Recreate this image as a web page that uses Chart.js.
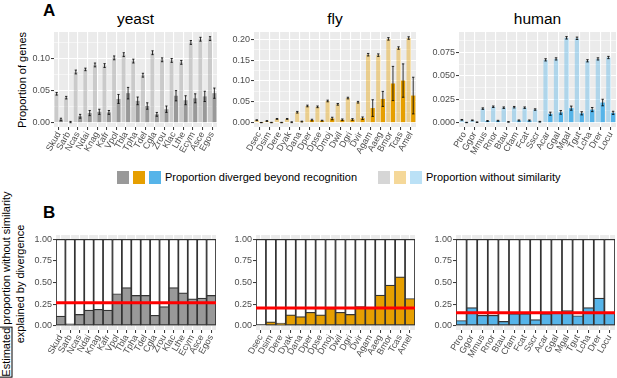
<!DOCTYPE html>
<html>
<head>
<meta charset="utf-8">
<script src="https://cdn.jsdelivr.net/npm/chart.js@4.4.1/dist/chart.umd.min.js"></script>
<style>
  html, body { margin:0; padding:0; background:#fff; }
  body { width:617px; height:378px; position:relative; overflow:hidden; font-family:"Liberation Sans", Arial, Helvetica, sans-serif; }
  canvas { position:absolute; }
  .txt { position:absolute; white-space:nowrap; color:#000; line-height:1; }
  .ctr { text-align:center; }
  .rot { transform: translate(-50%,-50%) rotate(-90deg); }
  .sq { position:absolute; width:12px; height:13px; }
</style>
</head>
<body>
<!-- Panel letters and titles -->
<div class="txt" style="left:43px;top:2px;font-size:17px;font-weight:bold;">A</div>
<div class="txt" style="left:43px;top:204px;font-size:17px;font-weight:bold;">B</div>
<div class="txt ctr" style="left:54px;width:163px;top:11px;font-size:15.5px;">yeast</div>
<div class="txt ctr" style="left:254px;width:162px;top:11px;font-size:15.5px;">fly</div>
<div class="txt ctr" style="left:459px;width:157px;top:11px;font-size:15.5px;">human</div>
<div class="txt rot" style="left:22px;top:80px;font-size:11px;">Proportion of genes</div>
<div class="txt rot ctr" style="left:13px;top:284px;font-size:11px;line-height:13.5px;"><span style="outline:1px solid #000;">Estimated</span> proportion without similarity<br>explained by divergence</div>

<!-- Legend -->
<div class="sq" style="left:117px;top:171px;background:#999999;"></div>
<div class="sq" style="left:133px;top:171px;background:#E69F00;"></div>
<div class="sq" style="left:149px;top:171px;background:#56B4E9;"></div>
<div class="txt" style="left:165px;top:172px;font-size:11px;">Proportion diverged beyond recognition</div>
<div class="sq" style="left:378px;top:171px;background:#d6d6d6;"></div>
<div class="sq" style="left:394px;top:171px;background:#f5d899;"></div>
<div class="sq" style="left:410px;top:171px;background:#bbe1f6;"></div>
<div class="txt" style="left:426px;top:172px;font-size:11px;">Proportion without similarity</div>

<canvas id="aYeast" width="203" height="135" style="left:14px;top:32px;"></canvas>
<canvas id="aFly" width="202" height="135" style="left:214px;top:32px;"></canvas>
<canvas id="aHuman" width="197" height="135" style="left:419px;top:32px;"></canvas>
<canvas id="bYeast" width="200" height="140" style="left:16px;top:235px;"></canvas>
<canvas id="bFly" width="199" height="140" style="left:216px;top:235px;"></canvas>
<canvas id="bHuman" width="199" height="140" style="left:416px;top:235px;"></canvas>

<script>
// ================= DATA =================
const yeastSpecies   = ['Skud','Sarb','Ncas','Ndai','Knag','Kafr','Vpol','Tbla','Tpha','Tdel','Cgla','Zrou','Klac','Lthe','Ecym','Asce','Egos'];
const yeastNoSim     = [0.045,0.039,0.079,0.083,0.090,0.089,0.101,0.106,0.096,0.074,0.109,0.098,0.097,0.094,0.125,0.130,0.131];
const yeastNoSimErr  = [0.002,0.002,0.003,0.002,0.003,0.003,0.003,0.003,0.003,0.003,0.003,0.003,0.003,0.003,0.003,0.003,0.003];
const yeastDiv       = [0.005,0.001,0.010,0.015,0.017,0.016,0.037,0.046,0.034,0.026,0.013,0.021,0.042,0.035,0.038,0.041,0.046];
const yeastDivErr    = [0.002,0.001,0.003,0.004,0.004,0.003,0.007,0.009,0.006,0.005,0.003,0.005,0.008,0.007,0.007,0.008,0.008];
const yeastExplained = [0.11,0.02,0.13,0.18,0.19,0.18,0.37,0.44,0.35,0.35,0.12,0.22,0.44,0.38,0.31,0.32,0.35];
const yeastMean      = 0.265;

const flySpecies     = ['Dsec','Dsim','Dere','Dyak','Dana','Dper','Dpse','Dmoj','Dwil','Dgri','Dvir','Agam','Aaeg','Bmor','Tcas','Amel'];
const flyNoSim       = [0.006,0.004,0.009,0.009,0.025,0.040,0.038,0.052,0.044,0.059,0.049,0.163,0.162,0.201,0.179,0.203];
const flyNoSimErr    = [0.001,0.001,0.001,0.001,0.002,0.002,0.002,0.002,0.002,0.002,0.002,0.003,0.003,0.003,0.003,0.003];
const flyDiv         = [0.0002,0.0003,0.0003,0.0011,0.0026,0.0062,0.0048,0.010,0.0069,0.0076,0.0107,0.035,0.057,0.094,0.101,0.065];
const flyDivErr      = [0.0003,0.0005,0.0005,0.001,0.001,0.002,0.001,0.003,0.002,0.002,0.003,0.020,0.018,0.041,0.040,0.044];
const flyExplained   = [0.0,0.045,0.03,0.125,0.105,0.155,0.125,0.20,0.155,0.13,0.22,0.21,0.355,0.47,0.565,0.315];
const flyMean        = 0.205;

const humanSpecies   = ['Ptro','Ggor','Mmus','Rnor','Btau','Cfam','Fcat','Sscr','Acar','Ggal','Mgal','Tgut','Lcha','Drer','Locu'];
const humanNoSim     = [0.0030,0.0025,0.0150,0.0170,0.0160,0.0165,0.0160,0.0140,0.0670,0.0680,0.0905,0.0900,0.0660,0.0680,0.0695];
const humanNoSimErr  = [0.0004,0.0004,0.0008,0.0008,0.0008,0.0008,0.0008,0.0008,0.0012,0.0012,0.0013,0.0013,0.0012,0.0012,0.0012];
const humanDiv       = [0.0002,0.0005,0.0018,0.0020,0.0008,0.0023,0.0023,0.0010,0.0095,0.0110,0.0155,0.0100,0.0140,0.0215,0.0105];
const humanDivErr    = [0.0002,0.0003,0.0005,0.0005,0.0003,0.0006,0.0006,0.0004,0.0017,0.0020,0.0022,0.0017,0.0022,0.0035,0.0017];
const humanExplained = [0.06,0.21,0.12,0.12,0.05,0.14,0.14,0.07,0.14,0.16,0.175,0.115,0.21,0.32,0.15];
const humanMean      = 0.15;

const yeastTicks = [0, 0.05, 0.10];
const yeastTickLabels = ['0.00','0.05','0.10'];
const yeastRange = [-0.0067, 0.1413];
const flyTicks = [0, 0.05, 0.10, 0.15, 0.20];
const flyTickLabels = ['0.00','0.05','0.10','0.15','0.20'];
const flyRange = [-0.0104, 0.2175];
const humanTicks = [0, 0.025, 0.05, 0.075];
const humanTickLabels = ['0.000','0.025','0.050','0.075'];
const humanRange = [-0.0046, 0.0967];
const bTicks = [0, 0.25, 0.5, 0.75, 1.0];
const bTickLabels = ['0.00','0.25','0.50','0.75','1.00'];
const bRange = [-0.05, 1.05];
const fullBar = 1.0;

// ================= STYLE =================
const FONT = '"Liberation Sans", Arial, Helvetica, sans-serif';
Chart.defaults.font.family = FONT;
const C = {
  yeast: {dark:'#999999', light:'rgba(153,153,153,0.4)'},
  fly:   {dark:'#E69F00', light:'rgba(230,159,0,0.4)'},
  human: {dark:'#56B4E9', light:'rgba(86,180,233,0.4)'}
};

const panelBg = {
  id:'panelBg',
  beforeDraw(chart){
    const {ctx, chartArea:a} = chart;
    ctx.save(); ctx.fillStyle = '#ebebeb';
    ctx.fillRect(a.left, a.top, a.right - a.left, a.bottom - a.top);
    ctx.restore();
  }
};
const errorBars = {
  id:'errorBars',
  afterDatasetsDraw(chart){
    const ctx = chart.ctx, ys = chart.scales.y;
    chart.data.datasets.forEach((ds, di) => {
      if (!ds.errors) return;
      const meta = chart.getDatasetMeta(di);
      meta.data.forEach((el, i) => {
        const v = ds.data[i], e = ds.errors[i];
        const t = ys.getPixelForValue(v + e), b = ys.getPixelForValue(v - e);
        const cw = el.width * 0.28;
        ctx.save();
        ctx.strokeStyle = '#000'; ctx.lineWidth = 0.8;
        ctx.beginPath();
        ctx.moveTo(el.x, t); ctx.lineTo(el.x, b);
        ctx.moveTo(el.x - cw, t); ctx.lineTo(el.x + cw, t);
        ctx.moveTo(el.x - cw, b); ctx.lineTo(el.x + cw, b);
        ctx.stroke(); ctx.restore();
      });
    });
  }
};
const refLine = {
  id:'refLine',
  afterDatasetsDraw(chart, args, opts){
    if (opts.value === undefined) return;
    const {ctx, chartArea:a} = chart;
    const y = chart.scales.y.getPixelForValue(opts.value);
    ctx.save(); ctx.strokeStyle = '#ff0000'; ctx.lineWidth = 3;
    ctx.beginPath(); ctx.moveTo(a.left, y); ctx.lineTo(a.right, y); ctx.stroke();
    ctx.restore();
  }
};

function minorOf(ticks, max){
  const out = [];
  for (let i = 0; i < ticks.length - 1; i++) out.push((ticks[i] + ticks[i+1]) / 2);
  const half = (ticks[1] - ticks[0]) / 2;
  if (ticks[ticks.length-1] + half <= max) out.push(ticks[ticks.length-1] + half);
  return out;
}

function baseOptions(ticks, labels, range, withMinor, xH, yW){
  const minors = withMinor ? minorOf(ticks, range[1]) : [];
  const all = ticks.concat(minors).sort((a,b) => a - b);
  const majorIdx = v => ticks.findIndex(t => Math.abs(t - v) < 1e-9);
  return {
    responsive:false, animation:false, events:[], devicePixelRatio:1,
    layout:{padding:0},
    plugins:{legend:{display:false}, tooltip:{enabled:false}},
    scales:{
      x:{
        afterFit(a){ a.height = xH; a.paddingLeft = 0; a.paddingRight = 0; },
        ticks:{font:{size:9, family:FONT}, color:'#4d4d4d', minRotation:60, maxRotation:60, autoSkip:false, padding:0},
        grid:{color:'#ffffff', lineWidth:1.1, offset:false, drawTicks:true, tickLength:3, tickColor:'#333333', tickWidth:1},
        border:{display:false}
      },
      y:{
        min:range[0], max:range[1],
        afterFit(a){ a.width = yW; a.paddingTop = 0; a.paddingBottom = 0; },
        afterBuildTicks(a){ a.ticks = all.map(v => ({value:v})); },
        ticks:{
          font:{size:9, family:FONT}, color:'#4d4d4d', padding:1, autoSkip:false,
          callback(v){ const k = majorIdx(v); return k >= 0 ? labels[k] : ''; }
        },
        grid:{
          color:'#ffffff',
          lineWidth(ctx){ return ctx.tick && majorIdx(ctx.tick.value) >= 0 ? 1.1 : 0.5; },
          tickColor(ctx){ return ctx.tick && majorIdx(ctx.tick.value) >= 0 ? '#333333' : 'rgba(0,0,0,0)'; },
          drawTicks:true, tickLength:3, tickWidth:1
        },
        border:{display:false}
      }
    }
  };
}

function makeA(id, species, noSim, noSimErr, div, divErr, ticks, labels, range, col){
  new Chart(document.getElementById(id), {
    type:'bar',
    data:{labels:species, datasets:[
      {data:noSim, errors:noSimErr, backgroundColor:col.light, categoryPercentage:0.9, barPercentage:0.94},
      {data:div, errors:divErr, backgroundColor:col.dark, categoryPercentage:0.9, barPercentage:0.94}
    ]},
    options: baseOptions(ticks, labels, range, true, 40, 40),
    plugins:[panelBg, errorBars]
  });
}

function makeB(id, species, explained, mean, col){
  const opts = baseOptions(bTicks, bTickLabels, bRange, false, 45, 40);
  opts.plugins.refLine = {value: mean};
  new Chart(document.getElementById(id), {
    type:'bar',
    data:{labels:species, datasets:[
      {data:explained, backgroundColor:col.dark, borderColor:'#333333', borderWidth:1.2, borderSkipped:false,
       grouped:false, order:0, categoryPercentage:1, barPercentage:1},
      {data:species.map(() => fullBar), backgroundColor:'#ffffff', borderColor:'#333333', borderWidth:1.2, borderSkipped:false,
       grouped:false, order:1, categoryPercentage:1, barPercentage:1}
    ]},
    options: opts,
    plugins:[panelBg, refLine]
  });
}

makeA('aYeast', yeastSpecies, yeastNoSim, yeastNoSimErr, yeastDiv, yeastDivErr, yeastTicks, yeastTickLabels, yeastRange, C.yeast);
makeA('aFly', flySpecies, flyNoSim, flyNoSimErr, flyDiv, flyDivErr, flyTicks, flyTickLabels, flyRange, C.fly);
makeA('aHuman', humanSpecies, humanNoSim, humanNoSimErr, humanDiv, humanDivErr, humanTicks, humanTickLabels, humanRange, C.human);
makeB('bYeast', yeastSpecies, yeastExplained, yeastMean, C.yeast);
makeB('bFly', flySpecies, flyExplained, flyMean, C.fly);
makeB('bHuman', humanSpecies, humanExplained, humanMean, C.human);
</script>
</body>
</html>
